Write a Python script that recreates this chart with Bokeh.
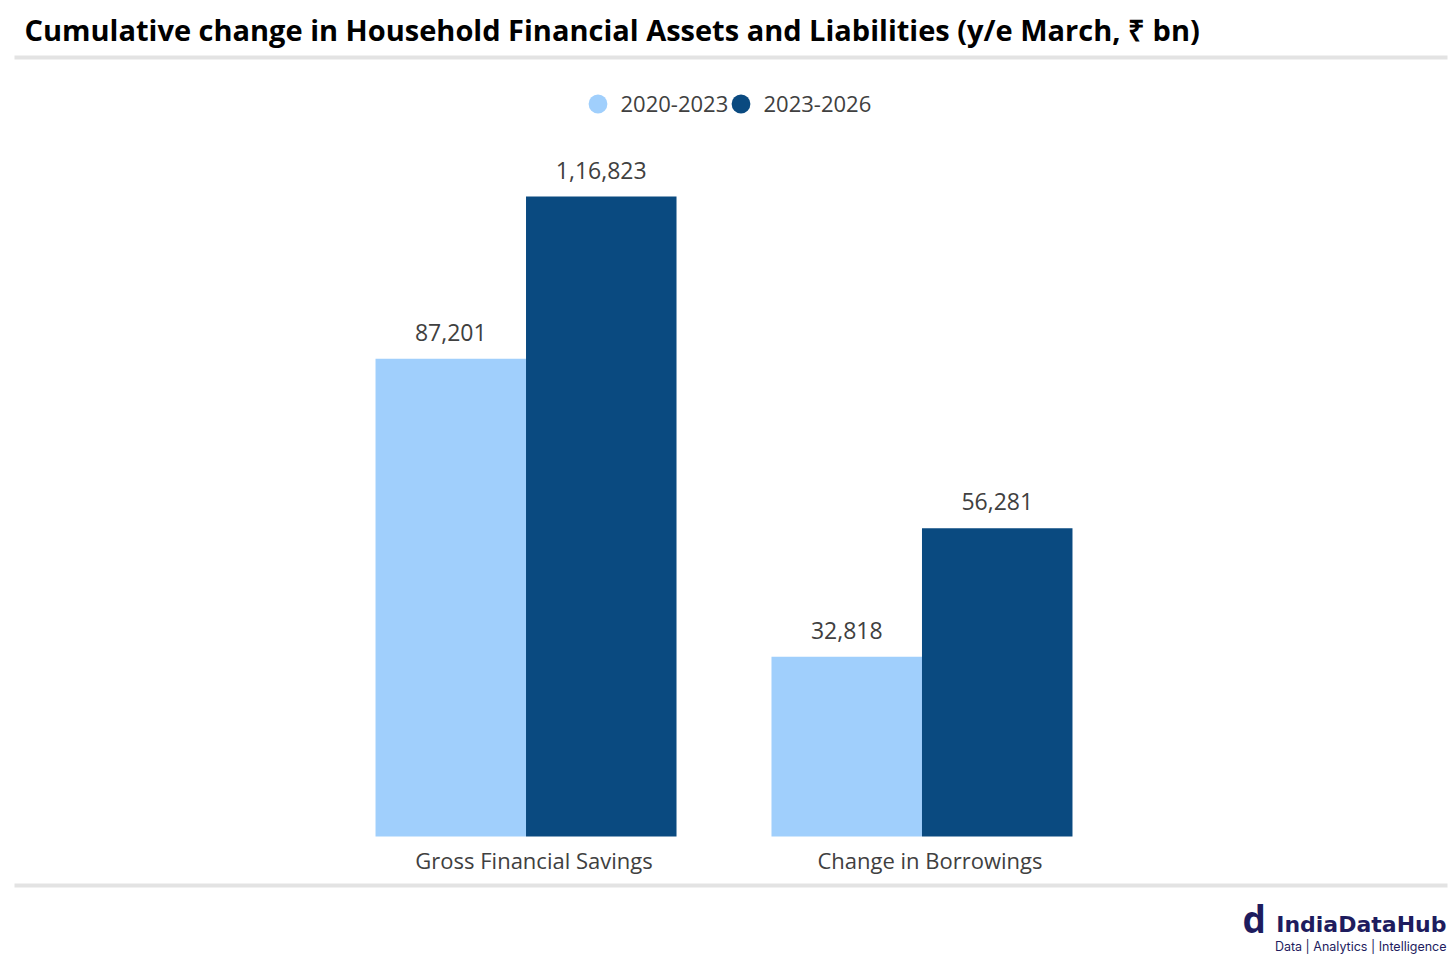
from bokeh.plotting import figure
from bokeh.models import (ColumnDataSource, FactorRange, Range1d, LabelSet,
                          BoxAnnotation, Legend, LegendItem)
from bokeh.transform import factor_cmap
from bokeh.core.properties import value
from bokeh.embed import file_html
from bokeh.resources import INLINE

# ---------------- data ----------------
categories = ["Gross Financial Savings", "Change in Borrowings"]
series = ["2020-2023", "2023-2026"]
values_2020_2023 = [87201, 32818]
values_2023_2026 = [116823, 56281]
title_text = "Cumulative change in Household Financial Assets and Liabilities (y/e March, \u20b9 bn)"
brand_name = "IndiaDataHub"
brand_tagline = "Data | Analytics | Intelligence"

# ---------------- style ----------------
LIGHT = "#a0cffc"
DARK = "#0a4a80"
TEXT = "#404040"
RULE = "#e3e3e3"
NAVY = "#1e1c5e"
FONT = "Open Sans"

W, H = 1456, 964
RIGHT_BORDER = 9


def sy(Y):
    return H - Y


def indian(n):
    s = str(int(n))
    if len(s) <= 3:
        return s
    last3, rest = s[-3:], s[:-3]
    groups = []
    while len(rest) > 2:
        groups.insert(0, rest[-2:])
        rest = rest[:-2]
    if rest:
        groups.insert(0, rest)
    return ",".join(groups + [last3])


factors = [(c, s) for c in categories for s in series]
vals = [v for pair in zip(values_2020_2023, values_2023_2026) for v in pair]
ser = [s for c in categories for s in series]

# layout of the plotting area (pixels)
unit_px = 150.5          # one bar width
group_gap = 0.631        # gap between the two groups, in bar widths
frame_w = W - RIGHT_BORDER
half_pad = (frame_w / unit_px - (2 * len(series) + group_gap)) / 2
base_px = H - 836        # baseline distance from bottom
ppu = (836 - 196) / max(vals)

x_range = FactorRange(*factors, factor_padding=0, group_padding=group_gap,
                      range_padding=half_pad, range_padding_units="absolute")
y_range = Range1d(-base_px / ppu, (H - base_px) / ppu)

p = figure(width=W, height=H, x_range=x_range, y_range=y_range, title=None,
           toolbar_location=None, output_backend="svg",
           min_border_left=0, min_border_top=0, min_border_bottom=0,
           min_border_right=RIGHT_BORDER,
           x_axis_location=None, y_axis_location=None, outline_line_color=None)
p.grid.visible = False
p.background_fill_color = "white"
p.border_fill_color = "white"

src = ColumnDataSource(dict(x=factors, top=vals, series=ser,
                            label=[indian(v) for v in vals]))
p.vbar(x="x", top="top", width=1.0, source=src, line_color=None,
       fill_color=factor_cmap("series", [LIGHT, DARK], series, start=1, end=2))

p.add_layout(LabelSet(x="x", y="top", text="label", source=src, y_offset=18,
                      text_align="center", text_baseline="alphabetic",
                      text_font=value(FONT), text_font_size="23px", text_color=TEXT))

cat_src = ColumnDataSource(dict(x=categories, y=[0] * len(categories), text=categories))
p.add_layout(LabelSet(x="x", y="y", text="text", source=cat_src, y_offset=-32, x_offset=8,
                      text_align="center", text_baseline="alphabetic",
                      text_font=value(FONT), text_font_size="22px", text_color=TEXT))

# legend with circle markers (one legend per entry, placed side by side)
GLYPH = 47
for name, color, cx in ((series[0], LIGHT, 597), (series[1], DARK, 740)):
    r = p.scatter(x=[factors[0]], y=[float("nan")], marker="circle",
                  fill_color=color, line_color=None)
    p.add_layout(Legend(items=[LegendItem(label=name, renderers=[r])],
                        orientation="horizontal",
                        location=(cx - GLYPH / 2, sy(103 + GLYPH / 2)),
                        glyph_width=GLYPH, glyph_height=GLYPH, label_standoff=0,
                        padding=0, margin=0, border_line_color=None,
                        background_fill_alpha=0,
                        label_text_font=FONT, label_text_font_size="22px",
                        label_text_color=TEXT, label_height=20), "center")


def screen_text(text, x, y, font, size, color, style="normal", align="left"):
    s = ColumnDataSource(dict(x=[x], y=[sy(y)], t=[text]))
    p.add_layout(LabelSet(x="x", y="y", text="t", source=s,
                          x_units="screen", y_units="screen",
                          text_font=value(font), text_font_style=style,
                          text_font_size=size, text_color=color,
                          text_align=align, text_baseline="alphabetic"))


# title and rules
screen_text(title_text, 24, 40, FONT, "29px", "black", style="bold")
for top_y in (55, 883):
    p.add_layout(BoxAnnotation(left=14, right=1450, top=sy(top_y), bottom=sy(top_y + 4),
                               left_units="screen", right_units="screen",
                               top_units="screen", bottom_units="screen",
                               fill_color=RULE, fill_alpha=1, line_color=None))

# logo
screen_text("d", 1242, 932, FONT, "37px", NAVY, style="bold")
screen_text(brand_name, 1446, 931, "DejaVu Sans", "22px", NAVY, style="bold", align="right")
screen_text(brand_tagline, 1446, 950, "Inter", "12.5px", NAVY, align="right")

open("out.html", "w").write(file_html(p, INLINE))
